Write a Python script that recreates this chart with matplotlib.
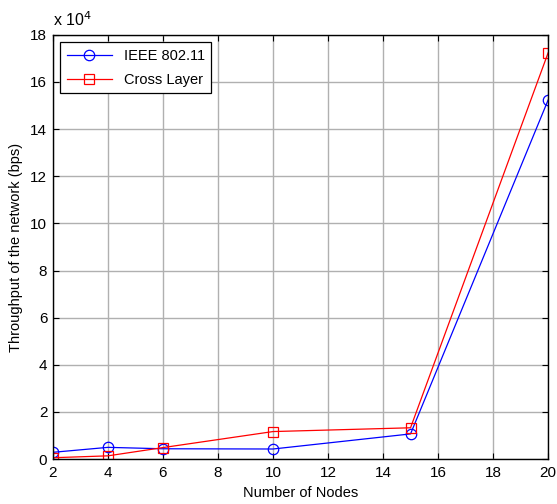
import matplotlib
matplotlib.use('Agg')
import matplotlib.pyplot as plt

# Values (throughput in bps)
nodes = [2, 4, 6, 10, 15, 20]
ieee_80211 = [2900, 5000, 4400, 4300, 10700, 152300]
cross_layer = [600, 1400, 4900, 11700, 13300, 172300]

plt.rcParams['font.family'] = ['Liberation Sans', 'DejaVu Sans']
FS = 10.5

fig = plt.figure(figsize=(5.57, 5.04), dpi=100)
ax = fig.add_axes([0.095, 0.089, 0.889, 0.842])

ax.plot(nodes, ieee_80211, color='#0000ff', lw=0.9, marker='o', ms=7.5,
        mfc='none', mew=0.9, label='IEEE 802.11')
ax.plot(nodes, cross_layer, color='#ff0000', lw=0.9, marker='s', ms=7.5,
        mfc='none', mew=0.9, label='Cross Layer')

ax.set_xlim(2, 20)
ax.set_ylim(0, 180000)
ax.set_xticks(range(2, 21, 2))
ax.set_yticks(range(0, 180001, 20000))
ax.set_yticklabels([str(v // 10000) for v in range(0, 180001, 20000)])
ax.text(0.0, 1.014, r'x 10$^{4}$', transform=ax.transAxes, fontsize=11.5,
        ha='left', va='bottom')

ax.grid(True, color='#b0b0b0', lw=1.0)
ax.set_axisbelow(True)
ax.tick_params(direction='in', top=True, right=True, labelsize=11,
               length=4, width=0.8, pad=4)
ax.tick_params(axis='x', pad=5)
for s in ax.spines.values():
    s.set_linewidth(1.0)

ax.set_xlabel('Number of Nodes', fontsize=FS, labelpad=4)
ax.set_ylabel('Throughput of the network (bps)', fontsize=FS, labelpad=5)

leg = ax.legend(loc='upper left', fontsize=FS, fancybox=False,
                edgecolor='black', framealpha=1, handlelength=3.1,
                labelspacing=0.7, borderaxespad=0.5, borderpad=0.45)
leg.get_frame().set_linewidth(0.9)

fig.savefig('out.png', dpi=100)
